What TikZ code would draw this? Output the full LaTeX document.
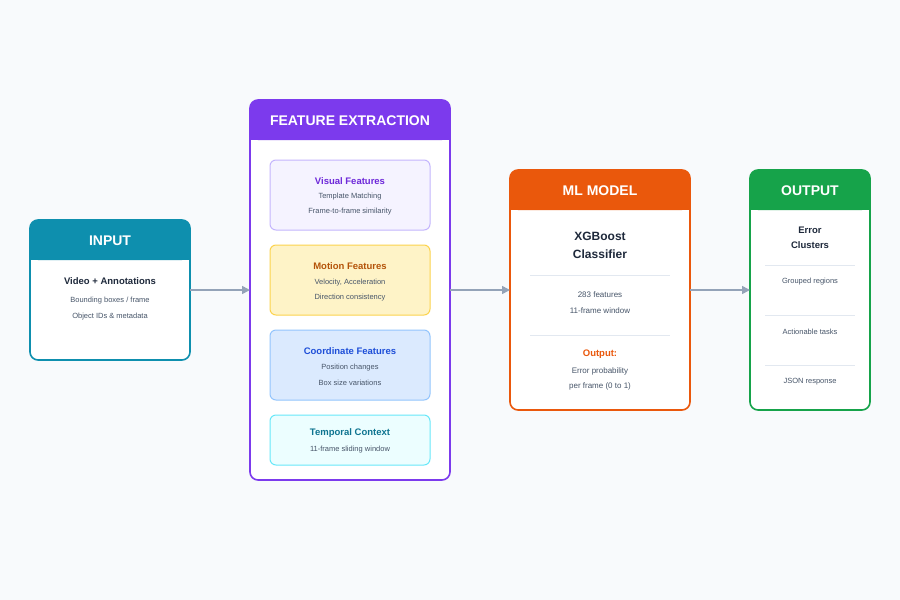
\documentclass[tikz,border=0pt]{standalone}
\usepackage{fontspec}
\setmainfont{Liberation Sans}
\usetikzlibrary{arrows.meta}
\definecolor{bg}{HTML}{F8FAFC}
\definecolor{teal}{HTML}{0E8FAE}
\definecolor{purp}{HTML}{7C3AED}
\definecolor{orng}{HTML}{EA580C}
\definecolor{grn}{HTML}{16A34A}
\definecolor{txt}{HTML}{1E293B}
\definecolor{sub}{HTML}{475569}
\definecolor{arr}{HTML}{94A3B8}
\definecolor{sep}{HTML}{E2E8F0}
\definecolor{vf}{HTML}{F5F3FF}\definecolor{vb}{HTML}{C4B5FD}\definecolor{vt}{HTML}{6D28D9}
\definecolor{mf}{HTML}{FEF3C7}\definecolor{mb}{HTML}{FCD34D}\definecolor{mt}{HTML}{B45309}
\definecolor{cf}{HTML}{DBEAFE}\definecolor{cb}{HTML}{93C5FD}\definecolor{ct}{HTML}{1D4ED8}
\definecolor{tf}{HTML}{ECFEFF}\definecolor{tb}{HTML}{67E8F9}\definecolor{tt}{HTML}{0E7490}
\tikzset{
 x=1pt,y=-1pt,
 card/.style={draw=#1,line width=1.6pt,rounded corners=8pt},
 hdr/.style={font=\bfseries\fontsize{14}{16}\selectfont,text=white},
 ttl/.style={font=\bfseries\fontsize{10.5}{13}\selectfont,text=txt,align=center},
 sm/.style={font=\fontsize{7.5}{9}\selectfont,text=sub,align=center},
 subttl/.style={font=\bfseries\fontsize{9.5}{11}\selectfont},
 subbox/.style 2 args={draw=#2,fill=#1,rounded corners=6pt,line width=1pt},
 conn/.style={draw=arr,line width=1.6pt,-{Triangle[length=8pt,width=8pt]}},
 sepl/.style={draw=sep,line width=0.8pt}
}
\newcommand{\cardbox}[6]{% name x1 y1 x2 y2 color
 \fill[white,rounded corners=8pt] (#2,#3) rectangle (#4,#5);
 \fill[#6,rounded corners=8pt] (#2,#3) rectangle (#4,#3+40);
 \fill[#6] (#2,#3+30) rectangle (#4,#3+40);
 \draw[card=#6] (#2,#3) rectangle (#4,#5);
 \coordinate (#1W) at (#2,290); \coordinate (#1E) at (#4,290);
}
\begin{document}
\begin{tikzpicture}
\fill[bg] (0,0) rectangle (900,600);
\useasboundingbox (0,0) rectangle (900,600);
% INPUT
\cardbox{in}{30}{220}{190}{360}{teal}
\node[hdr] (inh) at (110,241) {INPUT};
\node[ttl,font=\bfseries\fontsize{9.5}{11}\selectfont] (in1) at (110,281) {Video + Annotations};
\node[sm] (in2) at (110,301) {Bounding boxes / frame};
\node[sm] (in3) at (110,317) {Object IDs \& metadata};
% FEATURE
\cardbox{fe}{250}{100}{450}{480}{purp}
\node[hdr] (feh) at (350,121) {FEATURE EXTRACTION};
\draw[subbox={vf}{vb}] (270,160) rectangle (430,230);
\node[subttl,text=vt] (v1) at (350,181) {Visual Features};
\node[sm] (v2) at (350,197) {Template Matching};
\node[sm] (v3) at (350,212) {Frame-to-frame similarity};
\draw[subbox={mf}{mb}] (270,245) rectangle (430,315);
\node[subttl,text=mt] (m1) at (350,266) {Motion Features};
\node[sm] (m2) at (350,283) {Velocity, Acceleration};
\node[sm] (m3) at (350,298) {Direction consistency};
\draw[subbox={cf}{cb}] (270,330) rectangle (430,400);
\node[subttl,text=ct] (c1) at (350,351) {Coordinate Features};
\node[sm] (c2) at (350,368) {Position changes};
\node[sm] (c3) at (350,383) {Box size variations};
\draw[subbox={tf}{tb}] (270,415) rectangle (430,465);
\node[subttl,text=tt] (t1) at (350,433) {Temporal Context};
\node[sm] (t2) at (350,450) {11-frame sliding window};
% ML
\cardbox{ml}{510}{170}{690}{410}{orng}
\node[hdr] (mlh) at (600,191) {ML MODEL};
\node[ttl,font=\bfseries\fontsize{12}{18}\selectfont] (ml1) at (600,245) {XGBoost\\Classifier};
\draw[sepl] (530,275) -- (670,275);
\node[sm,font=\fontsize{8}{16}\selectfont] (ml2) at (600,303) {283 features\\11-frame window};
\draw[sepl] (530,335) -- (670,335);
\node[subttl,text=orng] (ml3) at (600,354) {Output:};
\node[sm,font=\fontsize{8}{15}\selectfont] (ml4) at (600,379) {Error probability\\per frame (0 to 1)};
% OUTPUT
\cardbox{ou}{750}{170}{870}{410}{grn}
\node[hdr] (ouh) at (810,191) {OUTPUT};
\node[ttl,font=\bfseries\fontsize{9.5}{15}\selectfont] (o1) at (810,238) {Error\\Clusters};
\draw[sepl] (765,265) -- (855,265);
\node[sm] (o2) at (810,282) {Grouped regions};
\draw[sepl] (765,315) -- (855,315);
\node[sm] (o3) at (810,332) {Actionable tasks};
\draw[sepl] (765,365) -- (855,365);
\node[sm] (o4) at (810,382) {JSON response};
% arrows
\draw[conn] (inE) -- (feW);
\draw[conn] (feE) -- (mlW);
\draw[conn] (mlE) -- (ouW);
\end{tikzpicture}
\end{document}
